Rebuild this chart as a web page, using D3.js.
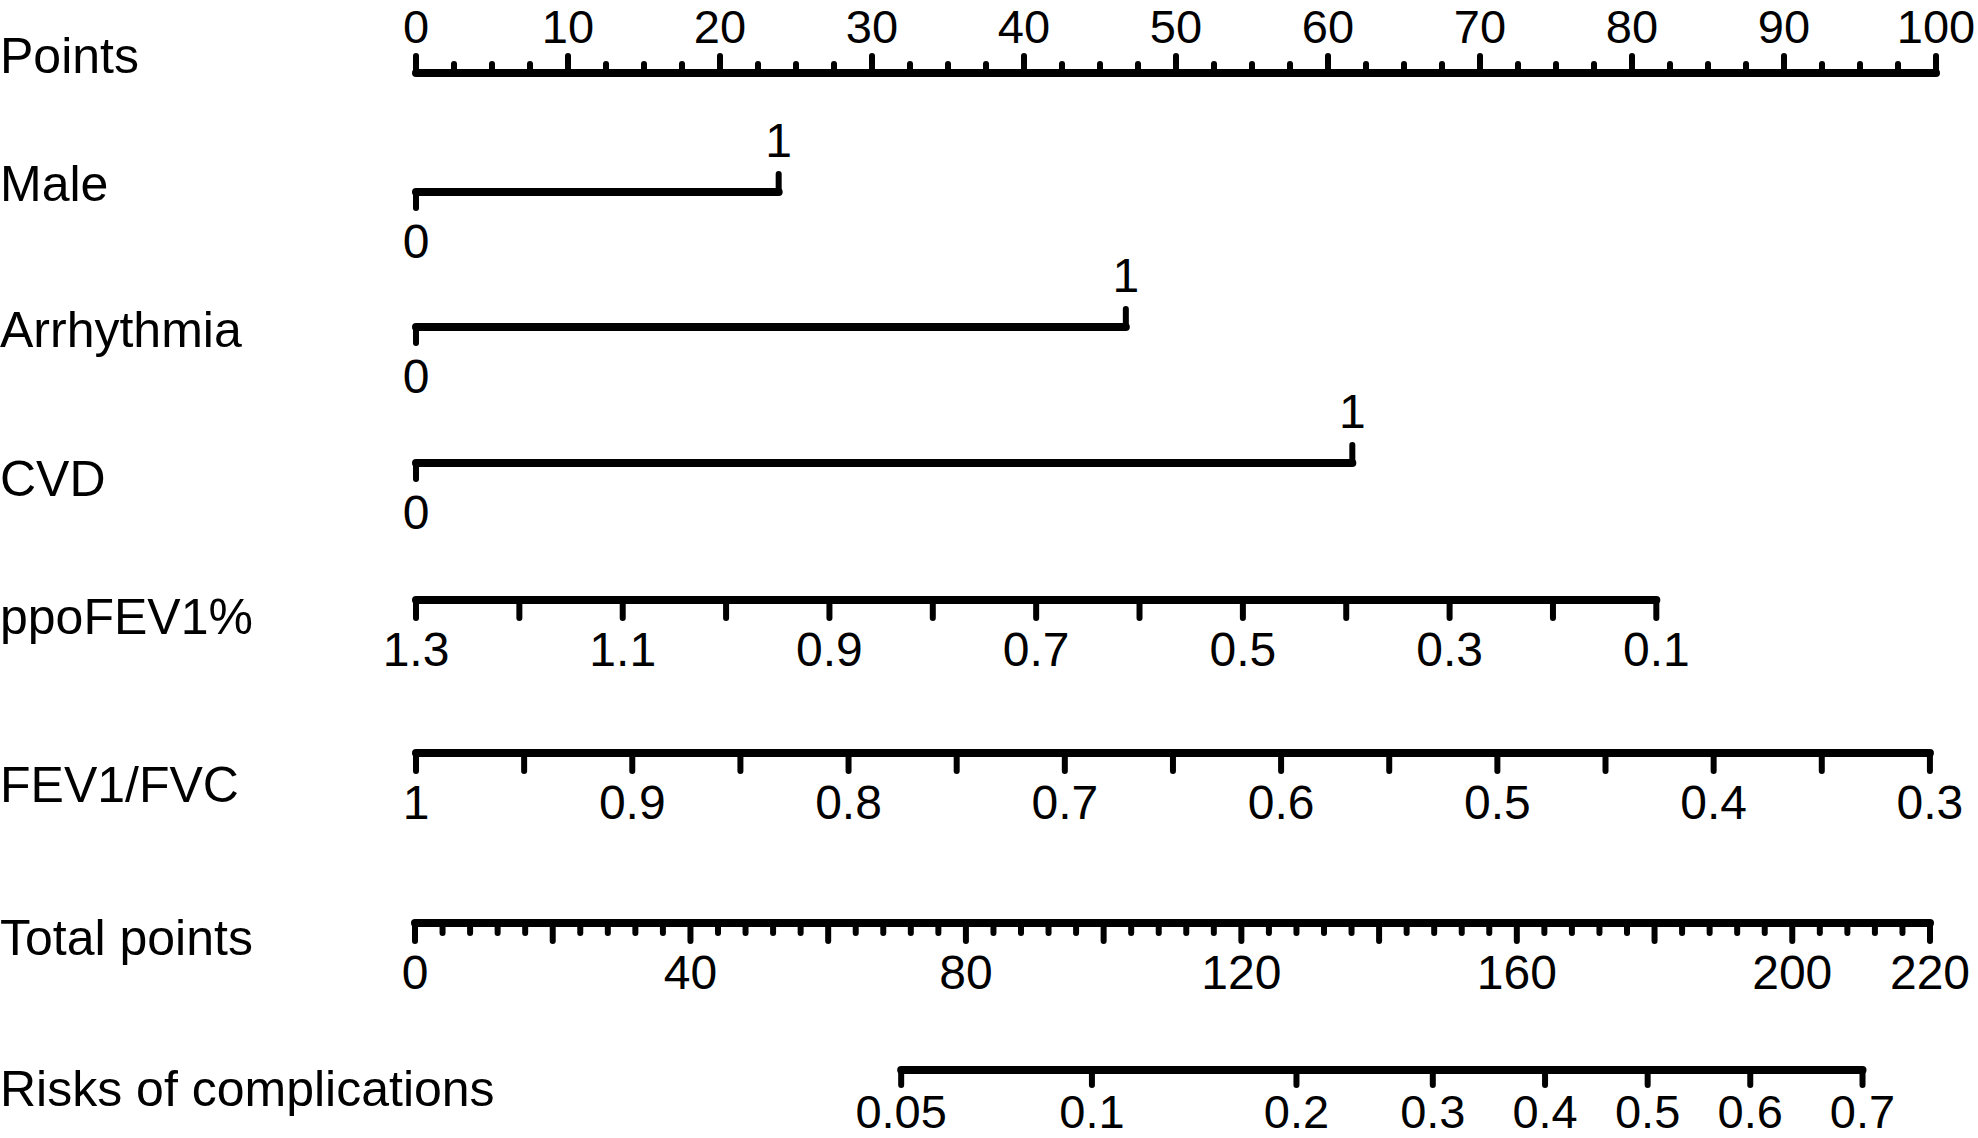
<!DOCTYPE html>
<html>
<head>
<meta charset="utf-8">
<script src="https://cdn.jsdelivr.net/npm/d3@7"></script>
<style>
  html, body { margin: 0; padding: 0; background: #fff; }
  svg { display: block; }
  text { font-family: "Liberation Sans", Arial, Helvetica, sans-serif; fill: #000; }
</style>
</head>
<body>
<svg id="chart" width="1978" height="1138"></svg>
<script>
// ---------------- data ----------------
const rowNames = ["Points", "Male", "Arrhythmia", "CVD", "ppoFEV1%", "FEV1/FVC", "Total points", "Risks of complications"];

const pointsMajorTicks = [0, 10, 20, 30, 40, 50, 60, 70, 80, 90, 100];
const pointsMinorStep = 2.5;

const binaryLevels = ["0", "1"];
const malePoints = [0, 23.86];
const arrhythmiaPoints = [0, 46.7];
const cvdPoints = [0, 61.6];

const ppoDomain = [1.3, 0.1];
const ppoPointsRange = [0, 81.6];
const ppoTicks = [1.3, 1.2, 1.1, 1.0, 0.9, 0.8, 0.7, 0.6, 0.5, 0.4, 0.3, 0.2, 0.1];
const ppoLabels = ["1.3", "1.1", "0.9", "0.7", "0.5", "0.3", "0.1"];

const fevDomain = [1, 0.3];
const fevPointsRange = [0, 99.6];
const fevTicks = [1, 0.95, 0.9, 0.85, 0.8, 0.75, 0.7, 0.65, 0.6, 0.55, 0.5, 0.45, 0.4, 0.35, 0.3];
const fevLabels = ["1", "0.9", "0.8", "0.7", "0.6", "0.5", "0.4", "0.3"];

const totalDomain = [0, 220];
const totalMajorTicks = [0, 20, 40, 60, 80, 100, 120, 140, 160, 180, 200, 220];
const totalMinorStep = 4;
const totalLabels = [0, 40, 80, 120, 160, 200, 220];

const riskLabels = ["0.05", "0.1", "0.2", "0.3", "0.4", "0.5", "0.6", "0.7"];
const riskTotalPoints = [70.6, 98.3, 128.0, 147.8, 164.1, 179.0, 193.9, 210.2];

// ---------------- layout ----------------
const FS = 48, EDGE_FS = 47, NAME_FS = 50;
const LINE_W = 8, TICK_W = 6;
const rowLineY = [73, 192, 327, 463, 600, 753, 923, 1070];
const rowLabelBase = [73, 201, 347, 496, 634, 802, 955, 1106];
const ABOVE = 35, BELOW = 66;

const svg = d3.select("#chart");
const g = svg.append("g");

const px = d3.scaleLinear().domain([0, 100]).range([416, 1936]);
const tx = d3.scaleLinear().domain(totalDomain).range([415, 1930]);

function hline(x1, x2, y) {
  g.append("line").attr("x1", x1).attr("x2", x2).attr("y1", y).attr("y2", y)
    .attr("stroke", "#000").attr("stroke-width", LINE_W).attr("stroke-linecap", "round");
}
function ticks(xs, y, len) {
  g.append("g").selectAll("line").data(xs).join("line")
    .attr("x1", d => d).attr("x2", d => d).attr("y1", y).attr("y2", y + len)
    .attr("stroke", "#000").attr("stroke-width", TICK_W).attr("stroke-linecap", "round");
}
function labels(items, y, fs = FS) {
  g.append("g").selectAll("text").data(items).join("text")
    .attr("x", d => d.x).attr("y", y).attr("text-anchor", "middle")
    .attr("font-size", fs).text(d => d.t);
}

// row names
g.append("g").selectAll("text").data(rowNames).join("text")
  .attr("x", 0).attr("y", (d, i) => rowLabelBase[i])
  .attr("font-size", NAME_FS).text(d => d);

// Points axis
{
  const y = rowLineY[0];
  hline(px(0), px(100), y);
  const minor = d3.range(0, 100 + 1e-9, pointsMinorStep).filter(v => Math.abs(v % 10) > 1e-6);
  ticks(pointsMajorTicks.map(px), y, -17);
  ticks(minor.map(px), y, -9);
  labels(pointsMajorTicks.map(v => ({ x: px(v), t: String(v) })), 43, EDGE_FS);
}

// binary variables
[[malePoints, 1], [arrhythmiaPoints, 2], [cvdPoints, 3]].forEach(([pts, r]) => {
  const y = rowLineY[r];
  const x0 = px(pts[0]), x1 = px(pts[1]);
  hline(x0, x1, y);
  ticks([x1], y, -18);
  ticks([x0], y, 16);
  labels([{ x: x1, t: binaryLevels[1] }], y - ABOVE);
  labels([{ x: x0, t: binaryLevels[0] }], y + BELOW);
});

// continuous variables
function contAxis(r, domain, prange, tickVals, labelVals) {
  const s = d3.scaleLinear().domain(domain).range(prange);
  const y = rowLineY[r];
  hline(px(s(domain[0])), px(s(domain[1])), y);
  ticks(tickVals.map(v => px(s(v))), y, 18);
  labels(labelVals.map(t => ({ x: px(s(+t)), t })), y + BELOW);
}
contAxis(4, ppoDomain, ppoPointsRange, ppoTicks, ppoLabels);
contAxis(5, fevDomain, fevPointsRange, fevTicks, fevLabels);

// Total points
{
  const y = rowLineY[6];
  hline(tx(totalDomain[0]), tx(totalDomain[1]), y);
  const minor = d3.range(0, 220 + 1e-9, totalMinorStep).filter(v => v % 20 !== 0);
  ticks(totalMajorTicks.map(tx), y, 18);
  ticks(minor.map(tx), y, 10);
  labels(totalLabels.map(v => ({ x: tx(v), t: String(v) })), y + BELOW);
}

// Risk axis
{
  const y = rowLineY[7];
  const xs = riskTotalPoints.map(tx);
  hline(d3.min(xs), d3.max(xs), y);
  ticks(xs, y, 15);
  labels(riskLabels.map((t, i) => ({ x: xs[i], t })), 1128, EDGE_FS);
}
</script>
</body>
</html>
